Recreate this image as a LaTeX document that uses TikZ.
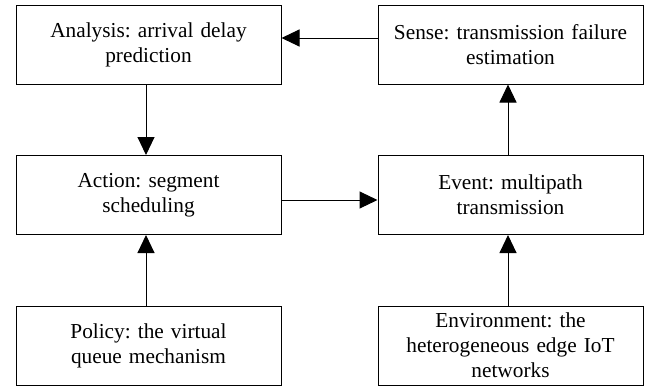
\documentclass[tikz,border=0pt]{standalone}
\usepackage{fontspec}
\setmainfont{Liberation Serif}
\usetikzlibrary{arrows.meta}
\begin{document}
\frenchspacing
\begin{tikzpicture}[x=1pt,y=1pt,
  box/.style={draw, line width=1pt, minimum width=265pt, minimum height=79pt, align=center, inner sep=0pt,
    font=\fontsize{21.3}{25}\selectfont, text width=260pt},
  arr/.style={line width=1pt, -{Triangle[length=18pt,width=17pt]}}]
\useasboundingbox (0,0) rectangle (655,-386);
\node[box] (ana) at (148.5,-44.5) {Analysis: arrival delay\\prediction};
\node[box] (sen) at (510.5,-44.5) {Sense: transmission failure\\estimation};
\node[box] (act) at (148.5,-195) {Action: segment\\scheduling};
\node[box] (eve) at (510.5,-195) {Event: multipath\\transmission};
\node[box] (pol) at (148.5,-345.5) {Policy: the virtual\\queue mechanism};
\node[box] (env) at (510.5,-345.5) {Environment: the\\heterogeneous edge IoT\\networks};
\draw[arr] (sen.west |- 0,-38) -- (ana.east |- 0,-38);
\draw[arr] (ana.south -| 146,0) -- (act.north -| 146,0);
\draw[arr] (act.east |- 0,-200) -- (eve.west |- 0,-200);
\draw[arr] (pol.north -| 146,0) -- (act.south -| 146,0);
\draw[arr] (eve.north -| 508,0) -- (sen.south -| 508,0);
\draw[arr] (env.north -| 508,0) -- (eve.south -| 508,0);
\end{tikzpicture}
\end{document}
